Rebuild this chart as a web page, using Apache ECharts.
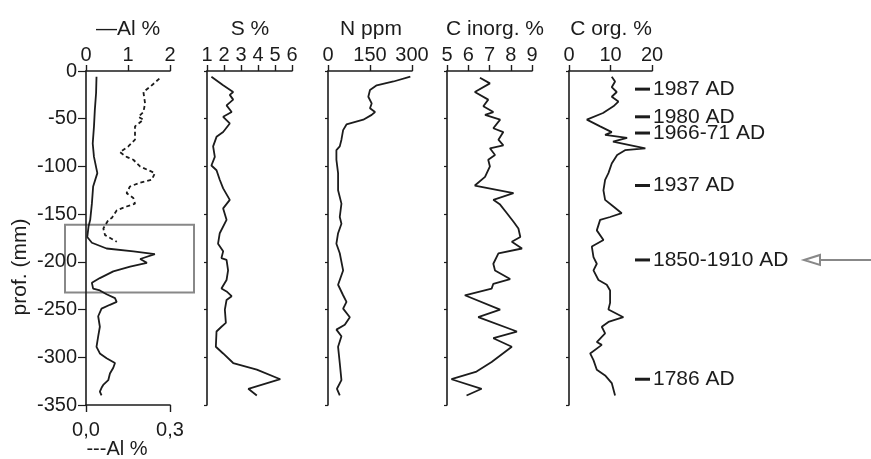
<!DOCTYPE html>
<html><head><meta charset="utf-8">
<script src="https://cdn.jsdelivr.net/npm/echarts@6/dist/echarts.min.js"></script>
<style>html,body{margin:0;padding:0;background:#fff}#c{width:871px;height:459px}</style>
</head><body><div id="c"></div>
<script>
// ---- data (depth in mm, negative downward) ----
const alSolidDepth = [-6,-23,-41,-58,-76,-90,-107,-121,-139,-156,-163,-174,-180,-186,-189,-192,-197,-201,-205,-210,-217,-222,-228,-230,-234,-238,-242,-245,-249,-257,-268,-278,-289,-296,-301,-306,-311,-317,-324,-329,-332,-336,-340];
const alSolidValue = [0.25,0.24,0.21,0.19,0.16,0.19,0.27,0.17,0.14,0.10,0.06,0.03,0.14,0.49,1.13,1.64,1.29,1.45,1.05,0.65,0.33,0.14,0.17,0.33,0.49,0.69,0.73,0.57,0.37,0.29,0.33,0.29,0.25,0.33,0.49,0.69,0.65,0.57,0.53,0.41,0.37,0.33,0.37];
const alDashDepth = [-8,-15,-22,-34,-43,-48,-51,-58,-72,-79,-85,-90,-93,-100,-107,-114,-117,-121,-128,-133,-139,-142,-146,-154,-156,-165,-172,-179];
const alDashValue = [0.262,0.235,0.205,0.211,0.205,0.187,0.205,0.175,0.175,0.151,0.121,0.145,0.169,0.193,0.246,0.235,0.193,0.157,0.145,0.169,0.175,0.145,0.110,0.092,0.080,0.062,0.068,0.110];
const sDepth = [-6,-15,-22,-25,-30,-36,-43,-48,-55,-64,-69,-79,-90,-99,-104,-114,-123,-135,-144,-156,-170,-181,-189,-196,-198,-209,-219,-228,-231,-236,-240,-250,-264,-268,-273,-289,-296,-306,-313,-323,-333,-340];
const sValue = [1.26,1.95,2.54,2.34,2.54,2.15,2.45,1.95,2.34,1.95,1.56,1.36,1.46,1.26,1.56,1.75,1.95,2.34,1.95,2.15,1.75,1.65,1.95,1.85,2.15,2.24,2.15,1.85,2.15,2.45,2.15,2.05,2.11,1.85,1.56,1.52,1.95,2.54,3.93,5.31,3.43,3.93];
const nDepth = [-6,-11,-15,-20,-27,-34,-39,-43,-46,-51,-56,-62,-72,-79,-83,-93,-107,-125,-139,-153,-160,-170,-181,-191,-209,-224,-235,-242,-249,-258,-266,-271,-278,-289,-306,-324,-333,-340];
const nValue = [294,234,174,150,144,156,150,168,156,126,66,54,48,42,30,30,36,36,48,42,48,36,30,42,54,36,54,66,54,78,60,30,48,36,42,48,32,42];
const cInorgDepth = [-7,-13,-22,-30,-37,-43,-46,-51,-60,-64,-72,-78,-81,-88,-93,-100,-111,-120,-128,-135,-140,-149,-158,-165,-174,-179,-186,-191,-202,-209,-218,-223,-228,-235,-250,-258,-273,-280,-289,-305,-315,-323,-333,-340];
const cInorgValue = [6.55,7.02,6.31,6.94,6.71,7.18,6.79,7.50,7.18,7.65,7.42,7.65,7.02,7.26,6.94,7.02,6.79,6.31,8.13,7.18,7.50,7.82,8.13,8.36,8.45,8.05,8.53,7.42,7.18,7.26,7.97,7.18,7.10,5.84,7.50,6.47,8.29,7.18,8.05,7.10,6.39,5.21,6.63,5.92];
const cOrgDepth = [-6,-11,-17,-22,-27,-32,-37,-44,-51,-58,-64,-67,-70,-74,-81,-83,-88,-97,-107,-114,-125,-135,-142,-149,-153,-156,-167,-177,-184,-195,-202,-209,-219,-224,-230,-243,-250,-258,-263,-268,-275,-284,-287,-296,-303,-313,-319,-327,-340];
const cOrgValue = [10.3,11.1,10.3,11.5,10.3,11.9,10.7,8.2,4.3,7.5,10.3,8.7,14.0,10.6,18.4,13.5,11.6,10.3,9.5,8.7,8.3,8.7,10.7,12.7,9.9,7.5,6.7,8.3,5.5,5.9,6.7,5.9,7.1,9.1,9.9,9.9,9.5,13.1,9.5,7.9,8.7,6.7,7.9,5.1,5.9,6.7,8.7,10.3,11.1];

const panelTitles = ['—Al %', 'S %', 'N ppm', 'C inorg. %', 'C org. %'];
const bottomTitle = '---Al %';
const panelMin = [0, 1, 0, 5, 0];
const panelMax = [2, 6, 300, 9, 20];
const panelInterval = [1, 1, 150, 1, 10];
const dateLabels = ['1987 AD', '1980 AD', '1966-71 AD', '1937 AD', '1850-1910 AD', '1786 AD'];
const dateDepths = [-19, -48, -65, -120, -198, -323];
const boxDepthTop = -161, boxDepthBottom = -232;
const arrowDepth = -198;

const pair = (v, d) => v.map((x, i) => [x, d[i]]);
const ink = '#1c1c1c';
const FONT = 'Liberation Sans, Arial, sans-serif';

const lefts = [86, 207, 328, 447, 569];
const widths = [84, 85, 84, 85, 83];
const titleX = [128, 250, 371, 495, 611];
const grids = lefts.map((l, i) => ({ left: l, top: 71, width: widths[i], height: 334, outerBoundsMode: 'none', containLabel: false }));

const xAxes = panelTitles.map((t, i) => ({
  type: 'value', gridIndex: i, position: 'top',
  min: panelMin[i], max: panelMax[i], interval: panelInterval[i],
  axisLine: { show: true, onZero: false, lineStyle: { color: ink, width: 1.6 } },
  axisTick: { show: true, length: 6, lineStyle: { color: ink, width: 1.4 } },
  axisLabel: { fontSize: 20, color: ink, margin: 6, fontFamily: FONT, showMinLabel: true, showMaxLabel: true },
  splitLine: { show: false }
}));
xAxes.push({
  type: 'value', gridIndex: 0, position: 'bottom',
  min: 0, max: 0.3, interval: 0.3,
  axisLine: { show: true, onZero: false, lineStyle: { color: ink, width: 1.6 } },
  axisTick: { show: true, length: 7, lineStyle: { color: ink, width: 1.4 } },
  axisLabel: { fontSize: 20, color: ink, margin: 15, fontFamily: FONT, formatter: v => v.toFixed(1).replace('.', ',') },
  splitLine: { show: false }
});

const yAxes = lefts.map((l, i) => ({
  type: 'value', gridIndex: i, min: -350, max: 0, interval: 50,
  axisLine: { show: true, onZero: false, lineStyle: { color: ink, width: 1.6 } },
  axisTick: { show: true, length: i === 0 ? 8 : 3, lineStyle: { color: ink, width: 1.2 } },
  axisLabel: { show: i === 0, fontSize: 20, color: ink, margin: 9, fontFamily: FONT },
  splitLine: { show: false }
}));

const lineS = (x, y, data, dashed) => ({
  type: 'line', xAxisIndex: x, yAxisIndex: y, data: data,
  symbol: 'none', showSymbol: false, smooth: false, animation: false,
  lineStyle: { color: ink, width: 1.8, type: dashed ? [4, 3] : 'solid' }
});

const chart = echarts.init(document.getElementById('c'), null, { renderer: 'canvas' });
chart.setOption({
  animation: false,
  backgroundColor: '#fff',
  textStyle: { fontFamily: FONT },
  grid: grids, xAxis: xAxes, yAxis: yAxes,
  series: [
    lineS(0, 0, pair(alSolidValue, alSolidDepth), false),
    lineS(5, 0, pair(alDashValue, alDashDepth), true),
    lineS(1, 1, pair(sValue, sDepth), false),
    lineS(2, 2, pair(nValue, nDepth), false),
    lineS(3, 3, pair(cInorgValue, cInorgDepth), false),
    lineS(4, 4, pair(cOrgValue, cOrgDepth), false)
  ]
});

const yPx = d => chart.convertToPixel({ yAxisIndex: 4 }, d);
const txt = (t, x, y, size, extra) => Object.assign({ type: 'text', x: x, y: y,
  style: { text: t, fontSize: size, fill: ink, fontFamily: FONT, align: 'center', verticalAlign: 'middle' } }, extra || {});
const g = [];
panelTitles.forEach((t, i) => g.push(txt(t, titleX[i], 29, 21)));
g.push(txt(bottomTitle, 117, 449, 20));
g.push(txt('prof. (mm)', 20, 267, 21, { rotation: Math.PI / 2 }));
const bt = yPx(boxDepthTop), bb = yPx(boxDepthBottom);
g.push({ type: 'rect', shape: { x: 65, y: bt, width: 129, height: bb - bt },
  style: { fill: 'none', stroke: '#888', lineWidth: 2 } });
dateLabels.forEach((t, i) => {
  const y = yPx(dateDepths[i]);
  g.push({ type: 'rect', shape: { x: 635, y: y - 1.5, width: 15, height: 3 }, style: { fill: ink } });
  g.push({ type: 'text', x: 653, y: y, style: { text: t, fontSize: 21, fill: ink, fontFamily: FONT, align: 'left', verticalAlign: 'middle' } });
});
const ay = yPx(arrowDepth);
g.push({ type: 'polyline', shape: { points: [[871, ay], [820, ay]] }, style: { stroke: '#888', lineWidth: 2 } });
g.push({ type: 'polygon', shape: { points: [[804, ay], [820, ay - 5], [820, ay + 5]] }, style: { fill: '#fff', stroke: '#888', lineWidth: 2 } });
chart.setOption({ graphic: g });
</script></body></html>
